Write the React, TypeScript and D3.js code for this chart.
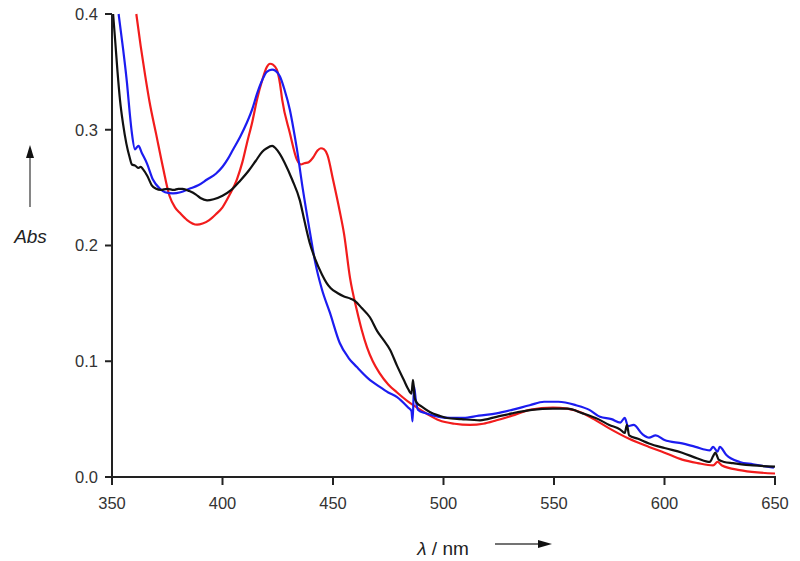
import React from "react";
import * as d3 from "d3";

const xTicks = [350, 400, 450, 500, 550, 600, 650];
const yTicks = [0.0, 0.1, 0.2, 0.3, 0.4];

const blackX = [350.5,351.4,352.5,353.6,355,356.5,358,359,360.5,362,363,364,366,368,370,372,375,378,380,382,385,388,390,393,396,400,404,408,412,415,418,420,422.5,424,426,428,431.5,435,437,439.5,442,445,447,449,452,455,458,460,463,466.7,470,473,475.8,479,482,484,485.5,486.2,487,488,490,494,498,501.6,508,516.5,524,531,540,549.5,556,563,570,575,580,582,583,584,588,593,600,608,615,620.5,622,623,624.5,627,631,640,650];
const blackY = [0.40,0.378,0.35,0.326,0.305,0.288,0.276,0.270,0.269,0.267,0.268,0.266,0.26,0.252,0.249,0.248,0.249,0.248,0.249,0.249,0.247,0.244,0.241,0.239,0.240,0.243,0.248,0.256,0.265,0.273,0.281,0.284,0.286,0.284,0.279,0.272,0.257,0.239,0.222,0.202,0.188,0.175,0.168,0.163,0.159,0.156,0.154,0.152,0.146,0.138,0.126,0.118,0.11,0.096,0.084,0.076,0.072,0.084,0.068,0.064,0.061,0.056,0.053,0.051,0.05,0.049,0.052,0.055,0.058,0.059,0.059,0.055,0.05,0.045,0.041,0.038,0.045,0.036,0.033,0.029,0.025,0.021,0.016,0.013,0.018,0.021,0.015,0.013,0.012,0.01,0.009];

const blueX = [353,355,356.8,358,359,360.4,361.3,362,363.5,365.8,368.5,371.7,374,377.6,381,385,389,393,397,400,402.5,404.8,408,411,413.5,415.6,418,420,422.4,424,426,428,430.5,432,433.7,436.4,439.6,442,445,448.6,453,457,460.8,466,471,475,479,484,485.5,486,486.7,487.5,488.5,492,498,503,509,516,524,531,539,545.5,552,560,566,570.8,576,580,582,583.5,586,590,593,596,600,608,614,620.5,622,624,625,628,634,640,649.5];
const blueY = [0.40,0.37,0.34,0.315,0.297,0.283,0.285,0.286,0.28,0.271,0.257,0.249,0.246,0.245,0.246,0.249,0.252,0.257,0.262,0.268,0.275,0.283,0.294,0.306,0.318,0.331,0.343,0.35,0.352,0.351,0.346,0.335,0.317,0.302,0.283,0.248,0.211,0.185,0.162,0.142,0.116,0.103,0.095,0.085,0.078,0.073,0.069,0.06,0.057,0.048,0.078,0.066,0.058,0.055,0.052,0.051,0.051,0.053,0.055,0.058,0.062,0.065,0.065,0.062,0.058,0.052,0.05,0.047,0.051,0.044,0.045,0.037,0.034,0.036,0.032,0.029,0.026,0.023,0.026,0.022,0.026,0.019,0.013,0.011,0.008];

const redX = [361,363,365,367,370,373,376,378.5,380.8,384,388.5,391,394,397,400,403,406.5,409,411,413.5,415.6,418,420,421.5,423,424.6,426,427,430.5,433.7,435.5,437,439,441,443,444.5,446,447.5,450,453,455,457.7,460.8,463,465.4,468,471,475,479,484.8,488,493,498,505,512,518,524,531,539,549.5,556,562,568,575,584,593,600,608,615,622,624,626,634,642,650];
const redY = [0.40,0.372,0.347,0.324,0.296,0.268,0.243,0.233,0.228,0.222,0.218,0.219,0.222,0.227,0.233,0.243,0.257,0.272,0.288,0.307,0.326,0.343,0.354,0.357,0.356,0.352,0.34,0.326,0.297,0.274,0.27,0.271,0.272,0.276,0.282,0.284,0.283,0.278,0.257,0.23,0.21,0.172,0.144,0.127,0.112,0.1,0.09,0.08,0.073,0.064,0.06,0.054,0.049,0.046,0.045,0.046,0.049,0.053,0.058,0.06,0.059,0.056,0.05,0.042,0.033,0.026,0.021,0.015,0.012,0.01,0.013,0.01,0.006,0.004,0.003];

const series = [
  { name: "red", xs: redX, ys: redY, color: "#f21c1c" },
  { name: "blue", xs: blueX, ys: blueY, color: "#1c1cf0" },
  { name: "black", xs: blackX, ys: blackY, color: "#111111" },
];

export default function App() {
  const x = d3.scaleLinear().domain([350, 650]).range([112, 775]);
  const y = d3.scaleLinear().domain([0, 0.4]).range([477, 14]);
  const line = d3
    .line<[number, number]>()
    .x((d) => x(d[0]))
    .y((d) => y(d[1]))
    .curve(d3.curveMonotoneX);
  const font = "'Liberation Sans', Arial, sans-serif";
  return (
    <svg
      width={800}
      height={561}
      style={{ position: "absolute", left: 0, top: 0, background: "#fff" }}
      fontFamily={font}
    >
      <defs>
        <clipPath id="plot">
          <rect x={112} y={13} width={665} height={465} />
        </clipPath>
      </defs>
      <g clipPath="url(#plot)" fill="none" strokeWidth={2.2} strokeLinejoin="round">
        {series.map((s) => (
          <path
            key={s.name}
            d={line(s.xs.map((v, i) => [v, s.ys[i]] as [number, number])) || ""}
            stroke={s.color}
          />
        ))}
      </g>
      <g stroke="#222" strokeWidth={2} fill="none">
        <line x1={112} y1={y(0.4)} x2={112} y2={y(0) + 1} />
        <line x1={111} y1={y(0)} x2={776} y2={y(0)} />
        {yTicks.map((t) => (
          <line key={"yt" + t} x1={105} x2={112} y1={y(t)} y2={y(t)} />
        ))}
        {xTicks.map((t) => (
          <line key={"xt" + t} x1={x(t)} x2={x(t)} y1={y(0)} y2={y(0) + 8} />
        ))}
      </g>
      <g fontSize={16.5} fill="#333">
        {yTicks.map((t) => (
          <text key={"yl" + t} x={98} y={y(t)} dy="0.36em" textAnchor="end">
            {d3.format(".1f")(t)}
          </text>
        ))}
        {xTicks.map((t) => (
          <text key={"xl" + t} x={x(t)} y={509} textAnchor="middle">
            {t}
          </text>
        ))}
      </g>
      <text x={30.5} y={243} fontSize={19} fontStyle="italic" textAnchor="middle" fill="#222">
        Abs
      </text>
      <line x1={30} y1={207} x2={30} y2={155} stroke="#444" strokeWidth={1.3} />
      <path d="M26,158 L30,145 L34,158 Z" fill="#111" />
      <text x={443} y={555} fontSize={19} textAnchor="middle" fill="#222">
        <tspan fontStyle="italic">λ</tspan> / nm
      </text>
      <line x1={495} y1={544} x2={540} y2={544} stroke="#444" strokeWidth={1.3} />
      <path d="M538,540 L552,544 L538,548 Z" fill="#111" />
    </svg>
  );
}
